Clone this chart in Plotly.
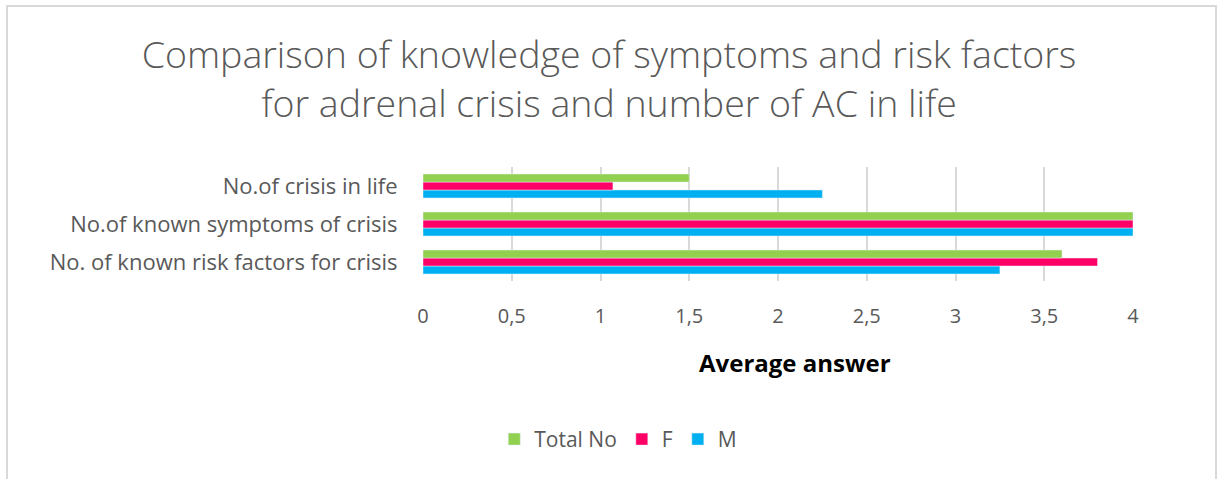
import plotly.graph_objects as go

categories = ["No. of known risk factors for crisis", "No.of known symptoms of crisis", "No.of crisis in life"]
total_no = [3.6, 4.0, 1.5]
female = [3.8, 4.0, 1.07]
male = [3.25, 4.0, 2.25]
tick_vals = [0, 0.5, 1, 1.5, 2, 2.5, 3, 3.5, 4]
tick_text = ["0", "0,5", "1", "1,5", "2", "2,5", "3", "3,5", "4"]

FONT = "Open Sans, sans-serif"
GREY = "#595959"

fig = go.Figure()
fig.add_trace(go.Bar(y=categories, x=male, name="M", orientation="h", marker=dict(color="#00b0f0")))
fig.add_trace(go.Bar(y=categories, x=female, name="F", orientation="h", marker=dict(color="#ff0066")))
fig.add_trace(go.Bar(y=categories, x=total_no, name="Total No", orientation="h", marker=dict(color="#92d050")))

fig.update_layout(
    width=1217, height=479,
    margin=dict(l=423, r=84, t=167, b=198),
    paper_bgcolor="white", plot_bgcolor="white",
    barmode="group", bargap=0.37, bargroupgap=0,
    font=dict(family=FONT, color=GREY),
    title=dict(
        text="Comparison of knowledge of symptoms and risk factors<br>for adrenal crisis and number of AC in life",
        x=609 / 1217, xref="container", xanchor="center",
        y=1 - 68 / 479, yref="container", yanchor="middle",
        font=dict(family=FONT, size=37.5, color=GREY, weight=300),
    ),
    xaxis=dict(
        range=[0, 4], tickvals=tick_vals, ticktext=tick_text,
        showgrid=True, gridcolor="#d9d9d9", gridwidth=1.5,
        zeroline=False, showline=False,
        ticks="outside", ticklen=17, tickcolor="rgba(0,0,0,0)",
        tickfont=dict(family=FONT, size=20, color=GREY),
        fixedrange=True,
    ),
    yaxis=dict(
        showgrid=False, zeroline=False, showline=False,
        ticks="outside", ticklen=20, tickcolor="rgba(0,0,0,0)",
        tickfont=dict(family=FONT, size=22, color=GREY),
        fixedrange=True,
    ),
    legend=dict(
        orientation="h", x=0.275, xanchor="center", xref="paper",
        y=-1.39, yanchor="middle",
        traceorder="reversed",
        font=dict(family=FONT, size=21, color=GREY),
        itemwidth=30,
    ),
    annotations=[dict(
        text="<b>Average answer</b>", xref="paper", yref="paper",
        x=(795 - 423) / 710, y=(281 - 362) / 114, xanchor="center", yanchor="middle",
        showarrow=False, font=dict(family=FONT, size=24, color="black"),
    )],
    shapes=[dict(
        type="rect", xref="paper", yref="paper",
        x0=(7 - 423) / 710, x1=(1216 - 423) / 710,
        y0=(281 - 480) / 114, y1=(281 - 6) / 114,
        line=dict(color="#d9d9d9", width=2), fillcolor="rgba(0,0,0,0)", layer="below",
    )],
)

fig.write_html("out.html", config={"displayModeBar": False},
               post_script="document.body.style.margin='0';document.body.style.padding='0';")
